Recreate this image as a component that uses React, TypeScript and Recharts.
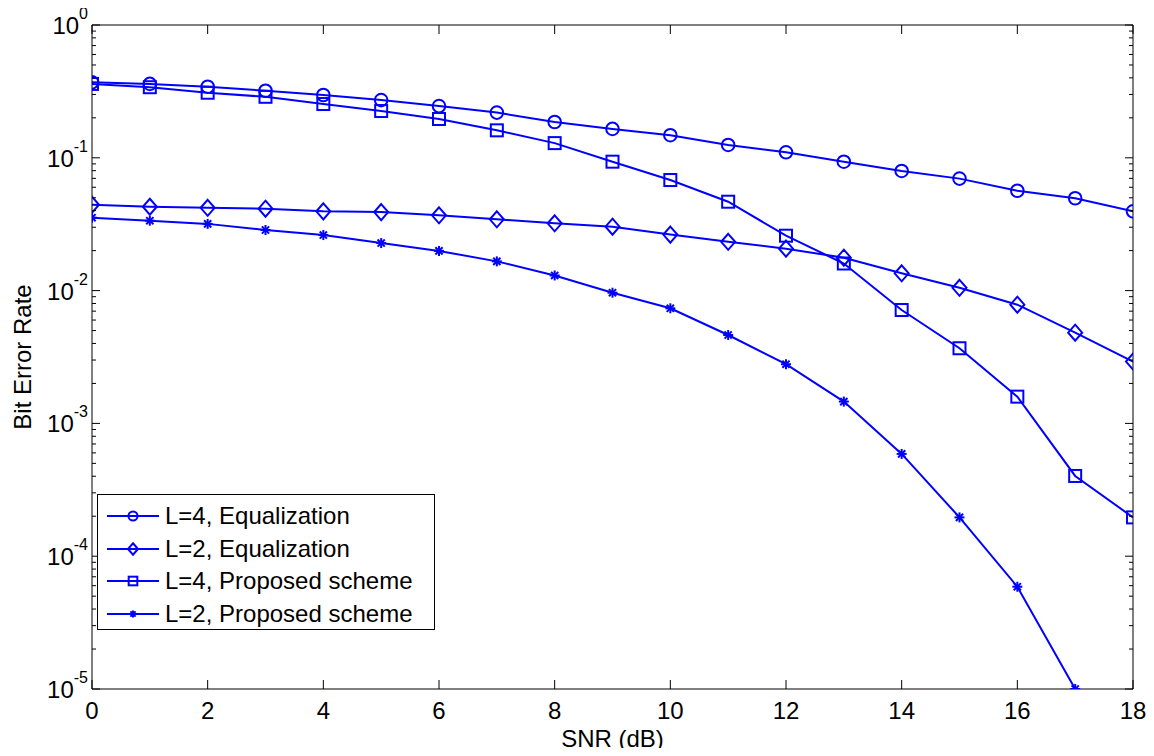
import React from 'react';
import { LineChart, Line, XAxis, YAxis, Legend } from 'recharts';

const FONT = '"Liberation Sans", Arial, Helvetica, sans-serif';
const BLUE = '#0000ff';

// SNR in dB
const snr = [0, 1, 2, 3, 4, 5, 6, 7, 8, 9, 10, 11, 12, 13, 14, 15, 16, 17, 18];

// bit error rate per curve
const l4Equalization = [
  0.37, 0.36, 0.343, 0.32, 0.297, 0.272, 0.245, 0.219, 0.186, 0.165, 0.148, 0.125, 0.11, 0.0935,
  0.0796, 0.0697, 0.0565, 0.0496, 0.0395,
];
const l2Equalization = [
  0.0443, 0.0428, 0.042, 0.0414, 0.0395, 0.039, 0.0369, 0.0344, 0.0321, 0.0303, 0.0264, 0.0233,
  0.0207, 0.0177, 0.0135, 0.0105, 0.00783, 0.00482, 0.00292,
];
const l4Proposed = [
  0.36, 0.34, 0.309, 0.288, 0.254, 0.225, 0.196, 0.161, 0.129, 0.0935, 0.068, 0.0467, 0.0259,
  0.016, 0.00714, 0.00368, 0.00159, 0.000402, 0.000196,
];
const l2Proposed = [
  0.0354, 0.0336, 0.0318, 0.0286, 0.0262, 0.0228, 0.0199, 0.0166, 0.013, 0.00964, 0.00736,
  0.00463, 0.00279, 0.00146, 0.000589, 0.000196, 0.0000589, 0.00001, null,
];

const xTicks = [0, 2, 4, 6, 8, 10, 12, 14, 16, 18];
const decades = [-5, -4, -3, -2, -1, 0];

const yTicks: number[] = [];
decades.forEach((d) => {
  yTicks.push(Math.pow(10, d));
  if (d < 0) for (let k = 2; k <= 9; k++) yTicks.push(k * Math.pow(10, d));
});

const data = snr.map((s, i) => ({
  snr: s,
  l4eq: l4Equalization[i],
  l2eq: l2Equalization[i],
  l4p: l4Proposed[i],
  l2p: l2Proposed[i],
}));

type Shape = 'circle' | 'diamond' | 'square' | 'star';

const series: { key: string; name: string; shape: Shape }[] = [
  { key: 'l4eq', name: 'L=4, Equalization', shape: 'circle' },
  { key: 'l2eq', name: 'L=2, Equalization', shape: 'diamond' },
  { key: 'l4p', name: 'L=4, Proposed scheme', shape: 'square' },
  { key: 'l2p', name: 'L=2, Proposed scheme', shape: 'star' },
];

const Marker = ({ shape, cx, cy, s = 1 }: { shape: Shape; cx: number; cy: number; s?: number }) => {
  const common = { stroke: BLUE, strokeWidth: 2, fill: 'none' };
  if (shape === 'circle') return <circle cx={cx} cy={cy} r={6.3 * s} {...common} />;
  if (shape === 'square')
    return <rect x={cx - 6 * s} y={cy - 6 * s} width={12 * s} height={12 * s} {...common} />;
  if (shape === 'diamond') {
    const w = 7 * s;
    const h = 8 * s;
    return (
      <polygon
        points={`${cx},${cy - h} ${cx + w},${cy} ${cx},${cy + h} ${cx - w},${cy}`}
        {...common}
      />
    );
  }
  const r = 5 * s;
  const d = 3.6 * s;
  return (
    <g stroke={BLUE} strokeWidth={2}>
      <line x1={cx} y1={cy - r} x2={cx} y2={cy + r} />
      <line x1={cx - r} y1={cy} x2={cx + r} y2={cy} />
      <line x1={cx - d} y1={cy - d} x2={cx + d} y2={cy + d} />
      <line x1={cx - d} y1={cy + d} x2={cx + d} y2={cy - d} />
    </g>
  );
};

const isDecade = (v: number) => Math.abs(Math.log10(v) - Math.round(Math.log10(v))) < 1e-6;

const LeftTick = (props: any) => {
  const { x, y, payload } = props;
  const v = payload.value;
  const major = isDecade(v);
  return (
    <g>
      <line x1={x} y1={y} x2={x + (major ? 8 : 4)} y2={y} stroke="#000" strokeWidth={1} />
      {major && (
        <text
          x={x - 4}
          y={y}
          textAnchor="end"
          dominantBaseline="central"
          fontFamily={FONT}
          fontSize={24}
          fill="#000"
        >
          <tspan>10</tspan>
          <tspan dy={-12} fontSize={16}>
            {Math.round(Math.log10(v))}
          </tspan>
        </text>
      )}
    </g>
  );
};

const RightTick = (props: any) => {
  const { x, y, payload } = props;
  const major = isDecade(payload.value);
  return <line x1={x} y1={y} x2={x - (major ? 8 : 4)} y2={y} stroke="#000" strokeWidth={1} />;
};

const BottomTick = (props: any) => {
  const { x, y, payload } = props;
  return (
    <g>
      <line x1={x} y1={y} x2={x} y2={y - 9} stroke="#000" strokeWidth={1} />
      <text
        x={x}
        y={y + 21}
        textAnchor="middle"
        dominantBaseline="central"
        fontFamily={FONT}
        fontSize={24}
        fill="#000"
      >
        {payload.value}
      </text>
    </g>
  );
};

const TopTick = (props: any) => {
  const { x, y } = props;
  return <line x1={x} y1={y} x2={x} y2={y + 9} stroke="#000" strokeWidth={1} />;
};

const LegendBox = () => (
  <div
    style={{
      width: 338,
      height: 136,
      boxSizing: 'border-box',
      border: '1px solid #000',
      background: '#fff',
      fontFamily: FONT,
      fontSize: 24,
      color: '#000',
      paddingTop: 5,
    }}
  >
    {series.map((s) => (
      <div key={s.key} style={{ display: 'flex', alignItems: 'center', height: 32.5 }}>
        <svg width={66} height={20} style={{ flex: 'none' }}>
          <line x1={9} y1={10} x2={61} y2={10} stroke={BLUE} strokeWidth={2} />
          <Marker shape={s.shape} cx={35} cy={10} s={0.72} />
        </svg>
        <span style={{ whiteSpace: 'nowrap', marginLeft: 1 }}>{s.name}</span>
      </div>
    ))}
  </div>
);

export default function App() {
  return (
    <div style={{ fontFamily: FONT, margin: -8 }}>
      <LineChart width={1154} height={756} data={data} margin={{ top: 0, right: 0, bottom: 0, left: 0 }}>
        <XAxis
          xAxisId="b"
          dataKey="snr"
          type="number"
          domain={[0, 18]}
          ticks={xTicks}
          interval={0}
          allowDataOverflow
          height={67}
          tickSize={0}
          tickMargin={0}
          tickLine={false}
          axisLine={{ stroke: '#000' }}
          tick={<BottomTick />}
          label={{ value: 'SNR (dB)', position: 'insideBottom', offset: 9, fontSize: 24, fill: '#000', fontFamily: FONT }}
        />
        <XAxis
          xAxisId="t"
          orientation="top"
          dataKey="snr"
          type="number"
          domain={[0, 18]}
          ticks={xTicks}
          interval={0}
          allowDataOverflow
          height={25}
          tickSize={0}
          tickMargin={0}
          tickLine={false}
          axisLine={{ stroke: '#000' }}
          tick={<TopTick />}
        />
        <YAxis
          yAxisId="l"
          scale="log"
          type="number"
          domain={[1e-5, 1]}
          ticks={yTicks}
          interval={0}
          allowDataOverflow
          width={92}
          tickSize={0}
          tickMargin={0}
          tickLine={false}
          axisLine={{ stroke: '#000' }}
          tick={<LeftTick />}
          label={{
            value: 'Bit Error Rate',
            angle: -90,
            position: 'insideLeft',
            offset: 22,
            fontSize: 24,
            fill: '#000',
            fontFamily: FONT,
            style: { textAnchor: 'middle' },
          }}
        />
        <YAxis
          yAxisId="r"
          orientation="right"
          scale="log"
          type="number"
          domain={[1e-5, 1]}
          ticks={yTicks}
          interval={0}
          allowDataOverflow
          width={21}
          tickSize={0}
          tickMargin={0}
          tickLine={false}
          axisLine={{ stroke: '#000' }}
          tick={<RightTick />}
        />
        <Legend
          layout="vertical"
          align="center"
          verticalAlign="middle"
          wrapperStyle={{ left: 97, top: 494, width: 'auto' }}
          content={<LegendBox />}
        />
        {series.map((s) => (
          <Line
            key={s.key}
            xAxisId="b"
            yAxisId="l"
            dataKey={s.key}
            name={s.name}
            stroke={BLUE}
            strokeWidth={2}
            isAnimationActive={false}
            connectNulls={false}
            dot={(p: any) =>
              p.cx == null || p.cy == null || p.value == null ? (
                <g key={`${s.key}-${p.index}`} />
              ) : (
                <g key={`${s.key}-${p.index}`}>
                  <Marker shape={s.shape} cx={p.cx} cy={p.cy} />
                </g>
              )
            }
            activeDot={false}
          />
        ))}
      </LineChart>
    </div>
  );
}
